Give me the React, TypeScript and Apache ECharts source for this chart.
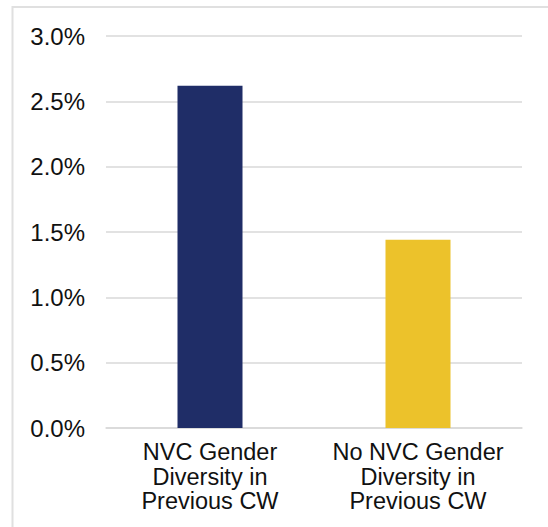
import React, { useEffect, useRef } from "react";
import * as echarts from "echarts";

const categories = [
  "NVC Gender\nDiversity in\nPrevious CW",
  "No NVC Gender\nDiversity in\nPrevious CW",
];
const values = [2.62, 1.44];
const barColors = ["#1f2d67", "#ecc22b"];
const yTicks = { min: 0, max: 3, interval: 0.5 };

export default function App() {
  const ref = useRef<HTMLDivElement>(null);
  useEffect(() => {
    if (!ref.current) return;
    const chart = echarts.init(ref.current, undefined, { renderer: "svg" });
    const font = "'Liberation Sans', Arial, Helvetica, sans-serif";
    chart.setOption({
      animation: false,
      backgroundColor: "#ffffff",
      graphic: [
        {
          type: "rect",
          shape: { x: 12.5, y: 7, width: 700, height: 700 },
          style: { fill: "none", stroke: "#e0e0e0", lineWidth: 2 },
          silent: true,
          z: -1,
        },
      ],
      grid: { left: 106, right: 26, top: 36, bottom: 99, containLabel: false },
      xAxis: {
        type: "category",
        data: categories,
        axisLine: { show: true, lineStyle: { color: "#d9d9d9", width: 1.5 } },
        axisTick: { show: false },
        axisLabel: {
          color: "#111111",
          fontFamily: font,
          fontSize: 23.5,
          lineHeight: 24.5,
          margin: 12,
          interval: 0,
        },
      },
      yAxis: {
        type: "value",
        min: yTicks.min,
        max: yTicks.max,
        interval: yTicks.interval,
        axisLine: { show: false },
        axisTick: { show: false },
        splitLine: { show: true, lineStyle: { color: "#d9d9d9", width: 1.5 } },
        axisLabel: {
          color: "#111111",
          fontFamily: font,
          fontSize: 24,
          margin: 21,
          formatter: (v: number) => v.toFixed(1) + "%",
        },
      },
      series: [
        {
          type: "bar",
          barWidth: 65,
          data: values.map((v, i) => ({ value: v, itemStyle: { color: barColors[i] } })),
        },
      ],
    });
    return () => chart.dispose();
  }, []);
  return (
    <div
      ref={ref}
      style={{ position: "fixed", left: 0, top: 0, width: 548, height: 527 }}
    />
  );
}
